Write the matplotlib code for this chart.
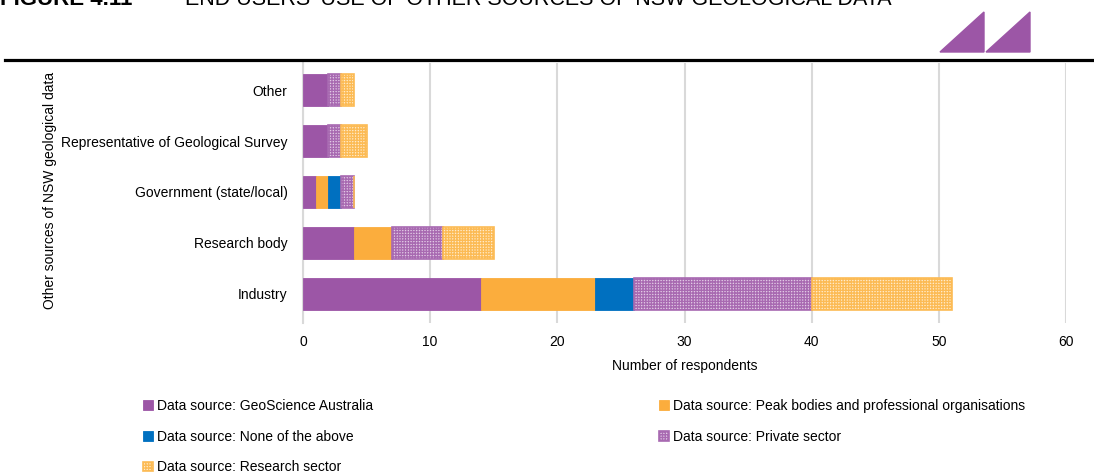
import matplotlib
matplotlib.use("Agg")
import matplotlib.pyplot as plt
from matplotlib.patches import Polygon
from matplotlib.lines import Line2D
import numpy as np

plt.rcParams["font.family"] = ["Liberation Sans Narrow", "Liberation Sans", "DejaVu Sans"]
plt.rcParams["hatch.linewidth"] = 1.0

# Respondent counts per user group (bottom to top on the chart)
groups = ["Industry", "Research body", "Government (state/local)",
          "Representative of Geological Survey", "Other"]
geoscience_aus = [14, 4, 1, 2, 2]
peak_bodies = [9, 3, 1, 0, 0]
none_above = [3, 0, 1, 0, 0]
private_sector = [14, 4, 1, 1, 1]
research_sector = [11, 4, 0, 2, 1]

PURPLE = "#9C56A6"
ORANGE = "#FBAD3D"
BLUE = "#0070C0"
GRID = "#D9D9D9"
FS = 10

fig = plt.figure(figsize=(10.94, 4.74), dpi=100)
ax = fig.add_axes([303 / 1094, 1 - 323 / 474, (1066 - 303) / 1094, (323 - 63) / 474])

y = np.arange(len(groups))
h = 0.63
left = np.zeros(len(groups))

series = [
    ("Data source: GeoScience Australia", geoscience_aus,
     dict(color=PURPLE, edgecolor=PURPLE, linewidth=0.6)),
    ("Data source: Peak bodies and professional organisations", peak_bodies,
     dict(color=ORANGE, edgecolor=ORANGE, linewidth=0.6)),
    ("Data source: None of the above", none_above,
     dict(color=BLUE, edgecolor=BLUE, linewidth=0.6)),
    ("Data source: Private sector", private_sector,
     dict(facecolor="#E2CAE6", edgecolor="#A86AB1", hatch="++++++", linewidth=1.2)),
    ("Data source: Research sector", research_sector,
     dict(facecolor="#FFEBCB", edgecolor="#FCBB55", hatch="++++++", linewidth=1.2)),
]

handles = {}
for label, vals, style in series:
    vals = np.array(vals, dtype=float)
    bars = ax.barh(y, vals, height=h, left=left, label=label, zorder=3, **style)
    handles[label] = bars
    left += vals

ax.set_xlim(0, 60)
ax.set_ylim(-0.57, 4.53)
ax.set_xticks(range(0, 61, 10))
ax.set_yticks(y)
ax.set_yticklabels(groups)
ax.xaxis.grid(True, color=GRID, linewidth=1.5, zorder=0)
ax.set_axisbelow(True)
for s in ["top", "right", "bottom"]:
    ax.spines[s].set_visible(False)
ax.spines["left"].set_color(GRID)
ax.spines["left"].set_linewidth(1.5)
ax.tick_params(axis="both", length=0, labelsize=FS, colors="black")
ax.tick_params(axis="y", pad=11)
ax.tick_params(axis="x", pad=9)
ax.set_xlabel("Number of respondents", fontsize=FS, labelpad=7)
fig.text(50 / 1094, 1 - 190 / 474, "Other sources of NSW geological data",
         rotation=90, ha="center", va="center", fontsize=FS)

# legend laid out row by row across two columns
order = ["Data source: GeoScience Australia", "Data source: None of the above",
         "Data source: Research sector",
         "Data source: Peak bodies and professional organisations",
         "Data source: Private sector"]
fig.legend([handles[k] for k in order], order, loc="upper left",
           bbox_to_anchor=(143 / 1094, 1 - 399 / 474), ncol=2, frameon=False,
           fontsize=FS, handlelength=0.7, handleheight=0.7, handletextpad=0.3,
           labelspacing=1.2, columnspacing=20.6, borderpad=0, borderaxespad=0)

# header: figure title, rule and logo
fig.text(0, 1 - 5 / 474, "FIGURE 4.11", fontsize=16, fontweight="bold",
         va="baseline", ha="left", family=["Liberation Sans"])
fig.text(185 / 1094, 1 - 5 / 474,
         "END USERS' USE OF OTHER SOURCES OF NSW GEOLOGICAL DATA",
         fontsize=15.5, va="baseline", ha="left", family=["Liberation Sans"])
fig.add_artist(Line2D([5 / 1094, 1], [1 - 60 / 474] * 2, color="black",
                      linewidth=2.3, transform=fig.transFigure))
for x0 in (940, 986):
    tri = [(x0 / 1094, 1 - 52 / 474), ((x0 + 44) / 1094, 1 - 12 / 474),
           ((x0 + 44) / 1094, 1 - 52 / 474)]
    fig.add_artist(Polygon(tri, closed=True, color=PURPLE,
                           transform=fig.transFigure))

fig.savefig("out.png", dpi=100)
